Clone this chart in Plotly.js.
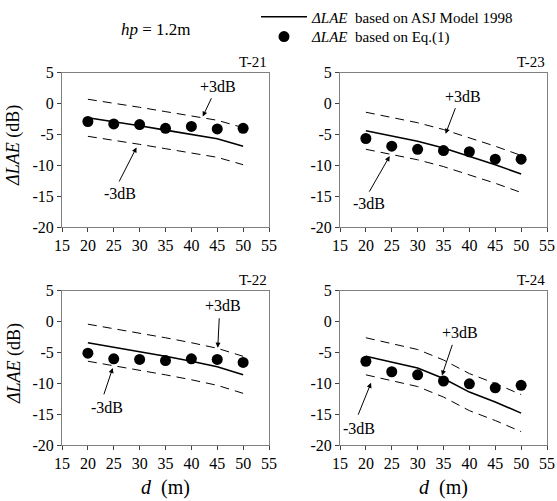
<!DOCTYPE html>
<html>
<head>
<meta charset="utf-8">
<script src="https://cdn.plot.ly/plotly-3.0.1.min.js"></script>
<style>html,body{margin:0;padding:0;background:#fff;}</style>
</head>
<body>
<div id="chart" style="width:557px;height:501px;"></div>
<script>
// ---- data ----
const dist = [20, 25, 30, 35, 40, 45, 50];
const panelNames = ['T-21', 'T-23', 'T-22', 'T-24'];

const asj21 = [-2.3, -2.9, -3.6, -4.3, -5.0, -5.7, -6.9];
const up21  = [0.7, 0.1, -0.6, -1.3, -2.0, -2.7, -3.9];
const lo21  = [-5.3, -5.9, -6.6, -7.3, -8.0, -8.7, -9.9];
const eq21  = [-2.9, -3.3, -3.4, -4.0, -3.7, -4.1, -4.0];

const asj23 = [-4.4, -5.2, -6.1, -7.2, -8.5, -9.9, -11.4];
const up23  = [-1.4, -2.2, -3.1, -4.2, -5.5, -6.9, -8.4];
const lo23  = [-7.4, -8.2, -9.1, -10.2, -11.5, -12.9, -14.4];
const eq23  = [-5.65, -6.9, -7.4, -7.6, -7.8, -9.0, -9.0];

const asj22 = [-3.4, -4.1, -4.9, -5.6, -6.4, -7.3, -8.6];
const up22  = [-0.4, -1.1, -1.9, -2.6, -3.4, -4.3, -5.6];
const lo22  = [-6.4, -7.1, -7.9, -8.6, -9.4, -10.3, -11.6];
const eq22  = [-5.1, -6.0, -6.1, -6.3, -6.0, -6.1, -6.6];

const asj24 = [-5.6, -6.5, -7.5, -9.2, -11.4, -13.0, -14.8];
const up24  = [-2.6, -3.5, -4.5, -6.2, -8.4, -10.0, -11.8];
const lo24  = [-8.6, -9.5, -10.5, -12.2, -14.4, -16.0, -17.8];
const eq24  = [-6.4, -8.1, -8.6, -9.6, -10.05, -10.7, -10.3];

const xTicks = [15, 20, 25, 30, 35, 40, 45, 50, 55];
const yTicks = [5, 0, -5, -10, -15, -20];

// ---- layout helpers ----
const W = 557, H = 501;
const FONT = 'Times New Roman, Liberation Serif, DejaVu Serif, serif';
const px2x = p => p / W;
const px2y = p => 1 - p / H;

const panels = [
  {name: panelNames[0], asj: asj21, up: up21, lo: lo21, eq: eq21, xd: [62, 269], yd: [71, 226],
   plus: {t: [45.1, 2.7], tail: [44.0, 1.1], head: [42.2, -2.1]},
   minus: {t: [26.2, -14.5], tail: [25.9, -12.85], head: [29.4, -7.1]}},
  {name: panelNames[1], asj: asj23, up: up23, lo: lo23, eq: eq23, xd: [340, 547], yd: [71, 226],
   plus: {t: [38.7, 1.1], tail: [37.4, -0.5], head: [35.4, -4.9]},
   minus: {t: [20.6, -16.2], tail: [20.5, -14.5], head: [24.6, -8.5]}},
  {name: panelNames[2], asj: asj22, up: up22, lo: lo22, eq: eq22, xd: [62, 269], yd: [290, 445],
   plus: {t: [46.1, 2.7], tail: [45.4, 0.8], head: [45.1, -4.2]},
   minus: {t: [23.7, -13.9], tail: [23.0, -12.0], head: [24.8, -7.5]}},
  {name: panelNames[3], asj: asj24, up: up24, lo: lo24, eq: eq24, xd: [340, 547], yd: [290, 445],
   plus: {t: [38.2, -1.7], tail: [36.8, -3.5], head: [34.7, -8.7]},
   minus: {t: [18.6, -17.3], tail: [18.4, -15.3], head: [21.0, -9.9]}}
];

const traces = [];
const annotations = [];
const legendBase = {xanchor: 'left', yanchor: 'middle', bgcolor: 'rgba(0,0,0,0)', borderwidth: 0,
  font: {family: FONT, size: 15, color: '#000'}, itemwidth: 46};
const layout = {
  width: W, height: H,
  margin: {l: 0, r: 0, t: 0, b: 0},
  paper_bgcolor: '#fff', plot_bgcolor: '#fff',
  font: {family: FONT, size: 16, color: '#000'},
  showlegend: true,
  legend: Object.assign({x: px2x(256), y: px2y(15)}, legendBase),
  legend2: Object.assign({x: px2x(256), y: px2y(35)}, legendBase),
  annotations: annotations
};

panels.forEach((p, i) => {
  const n = i + 1;
  const xa = n === 1 ? 'x' : 'x' + n;
  const ya = n === 1 ? 'y' : 'y' + n;
  const xk = n === 1 ? 'xaxis' : 'xaxis' + n;
  const yk = n === 1 ? 'yaxis' : 'yaxis' + n;
  layout[xk] = {
    domain: [px2x(p.xd[0]), px2x(p.xd[1])], anchor: ya,
    range: [15, 55], tickvals: xTicks, ticktext: xTicks.map(String),
    showgrid: false, zeroline: false, showline: true, mirror: true,
    linecolor: '#808080', linewidth: 1, ticks: 'outside', ticklen: 4,
    tickcolor: '#404040', tickfont: {family: FONT, size: 16, color: '#000'}, fixedrange: true
  };
  layout[yk] = {
    domain: [px2y(p.yd[1]), px2y(p.yd[0])], anchor: xa,
    range: [-20, 5], tickvals: yTicks, ticktext: yTicks.map(String),
    showgrid: false, zeroline: false, showline: true, mirror: true,
    linecolor: '#808080', linewidth: 1, ticks: 'outside', ticklen: 4,
    tickcolor: '#404040', tickfont: {family: FONT, size: 16, color: '#000'}, fixedrange: true
  };
  const dash = {color: '#000', width: 1, dash: '9px,6px'};
  traces.push({x: dist, y: p.up, xaxis: xa, yaxis: ya, mode: 'lines', line: dash, showlegend: false, hoverinfo: 'skip'});
  traces.push({x: dist, y: p.lo, xaxis: xa, yaxis: ya, mode: 'lines', line: dash, showlegend: false, hoverinfo: 'skip'});
  traces.push({x: dist, y: p.asj, xaxis: xa, yaxis: ya, mode: 'lines',
    line: {color: '#000', width: 1.6}, legend: 'legend',
    name: '<i>ΔLAE</i>\u00a0 based on ASJ Model 1998', showlegend: i === 0});
  traces.push({x: dist, y: p.eq, xaxis: xa, yaxis: ya, mode: 'markers',
    marker: {color: '#000', size: 11, symbol: 'circle'}, legend: 'legend2',
    name: '<i>ΔLAE</i>\u00a0 based on Eq.(1)', showlegend: i === 0});

  // panel label
  annotations.push({xref: 'paper', yref: 'paper', x: px2x(p.xd[1]), y: px2y(p.yd[0] - 1),
    xanchor: 'right', yanchor: 'bottom', text: p.name, showarrow: false,
    font: {family: FONT, size: 15, color: '#000'}});

  // +3dB / -3dB labels and arrows
  [p.plus, p.minus].forEach((a, k) => {
    annotations.push({xref: xa, yref: ya, x: a.t[0], y: a.t[1], text: k === 0 ? '+3dB' : '-3dB',
      xanchor: 'center', yanchor: 'middle',
      showarrow: false, font: {family: FONT, size: 16, color: '#000'}});
    annotations.push({xref: xa, yref: ya, x: a.head[0], y: a.head[1], axref: xa, ayref: ya,
      ax: a.tail[0], ay: a.tail[1], text: '', showarrow: true, arrowhead: 2, arrowsize: 1,
      arrowwidth: 1, arrowcolor: '#000', standoff: 0, startstandoff: 0});
  });

  // y title on left panels
  if (p.xd[0] < 100) {
    annotations.push({xref: 'paper', yref: 'paper', x: px2x(14), y: px2y((p.yd[0] + p.yd[1]) / 2 - 4),
      xanchor: 'center', yanchor: 'middle',
      text: '<i>ΔLAE</i> (dB)', textangle: -90, showarrow: false,
      font: {family: FONT, size: 18, color: '#000'}});
  }
  // x title on bottom panels
  if (p.yd[0] > 200) {
    annotations.push({xref: 'paper', yref: 'paper', x: px2x((p.xd[0] + p.xd[1]) / 2), y: px2y(487),
      xanchor: 'center', yanchor: 'middle',
      text: '<i>d</i>\u00a0 (m)', showarrow: false,
      font: {family: FONT, size: 20, color: '#000'}});
  }
});

annotations.push({xref: 'paper', yref: 'paper', x: px2x(156), y: px2y(28),
  xanchor: 'center', yanchor: 'middle',
  text: '<i>hp</i> = 1.2m', showarrow: false, font: {family: FONT, size: 17, color: '#000'}});

Plotly.newPlot('chart', traces, layout, {displayModeBar: false, staticPlot: true});
</script>
</body>
</html>
